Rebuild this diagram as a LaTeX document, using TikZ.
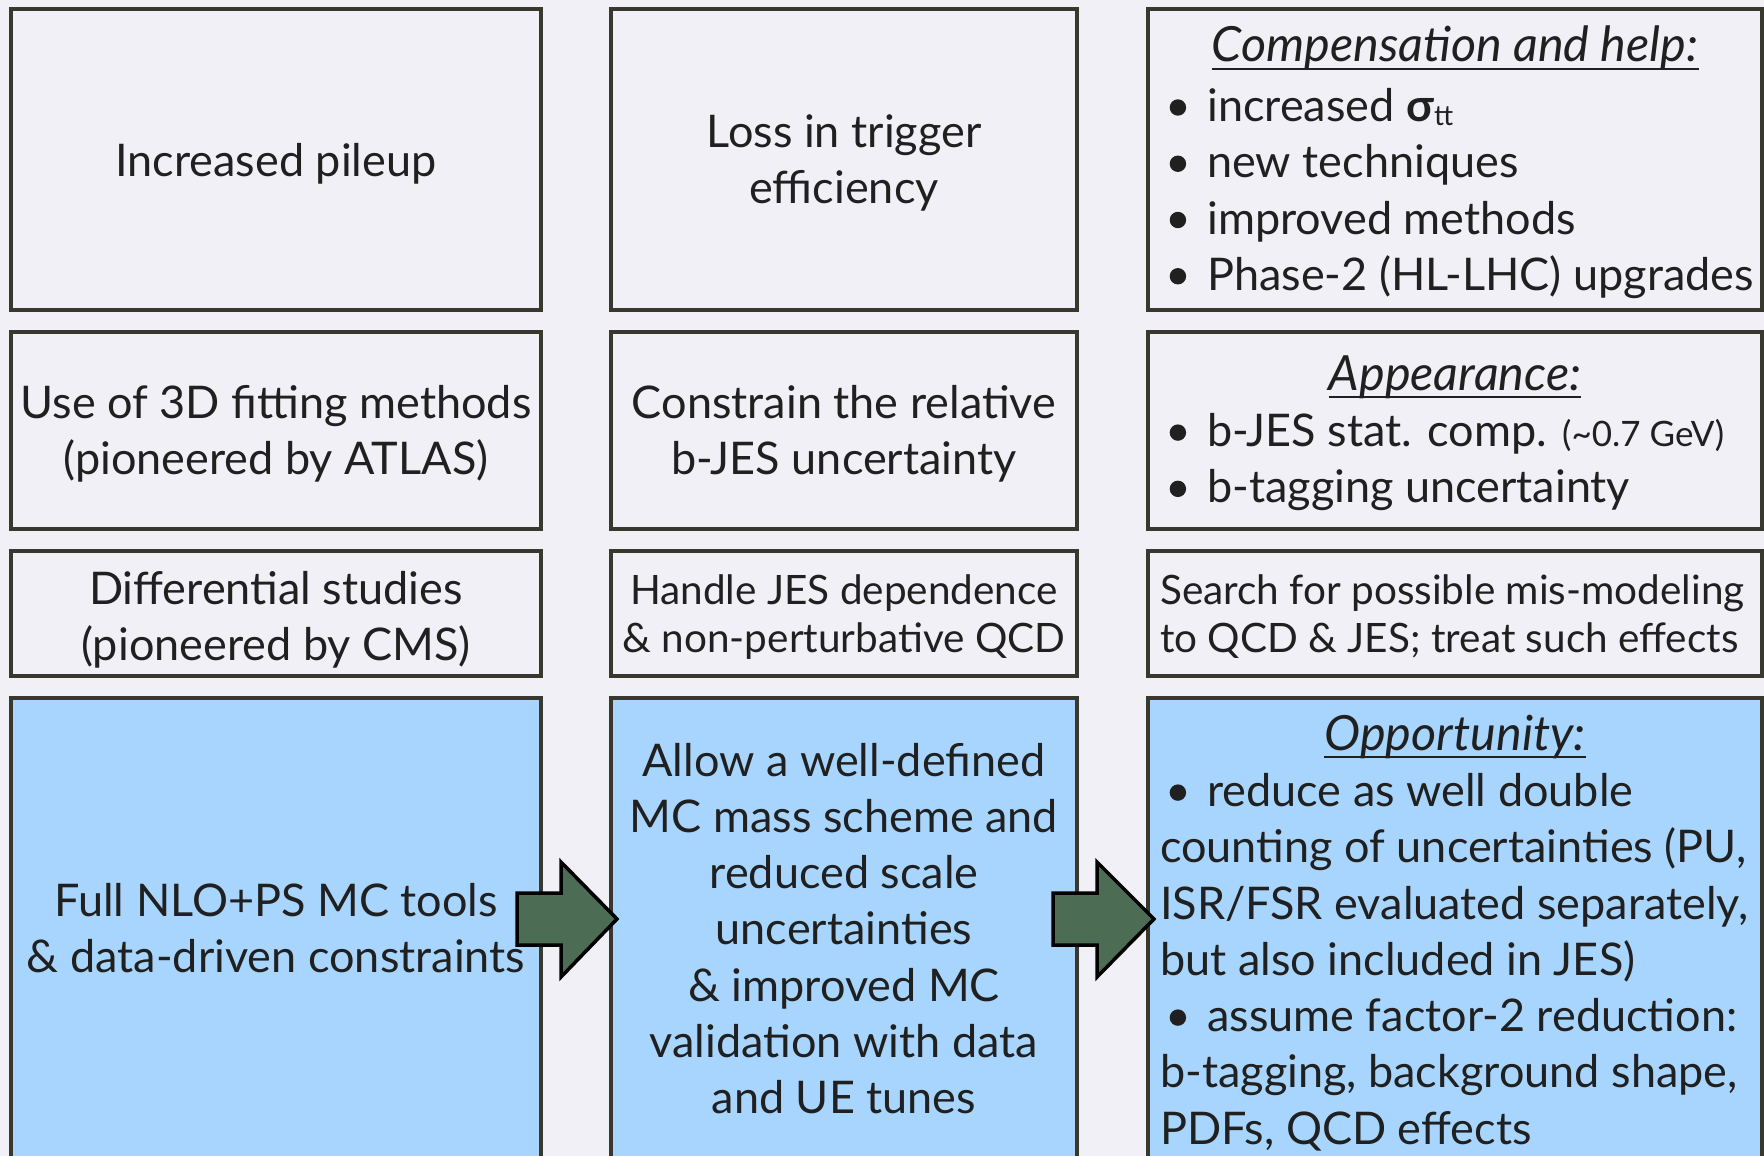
\documentclass[tikz,border=0pt]{standalone}
\usepackage{fontspec}
\setmainfont{Lato}
\usetikzlibrary{calc}
\definecolor{bgc}{RGB}{241,240,246}
\definecolor{bluec}{RGB}{168,213,253}
\definecolor{edgec}{RGB}{56,56,46}
\definecolor{arrc}{RGB}{76,108,84}
\definecolor{txtc}{RGB}{32,32,32}
\newcommand{\blt}{\makebox[47pt][l]{\hspace*{9.5pt}\tikz[baseline=-14pt]\fill[txtc] (0,0) circle (8.2pt);}}
\newcommand{\tsub}[1]{\raisebox{-4pt}{\fontsize{28}{28}\selectfont #1}}
\begin{document}
\begin{tikzpicture}[x=1pt,y=-1pt,
  box/.style={draw=edgec, line width=3.2pt, fill=bgc, inner sep=0pt, outer sep=0pt, anchor=north west},
  bluebox/.style={box, fill=bluec},
  big/.style={font=\fontsize{45}{56.25}\selectfont, text=txtc, inner sep=0pt, align=center, anchor=base},
  mid/.style={font=\fontsize{40.5}{48.4}\selectfont, text=txtc, inner sep=0pt, align=center, anchor=base},
  leftblk/.style={align=left, anchor=base west},
  hdr/.style={big, font=\fontsize{48.5}{56.25}\selectfont\itshape},
  uline/.style={draw=txtc, line width=2.2pt},
  bigarr/.style={draw=black, line width=3.5pt, fill=arrc, line join=miter}]
\useasboundingbox (0,0) rectangle (1764,1156);
\fill[bgc] (0,0) rectangle (1764,1156);
% boxes
\node[box, minimum width=530, minimum height=301] (b11) at (11,9) {};
\node[box, minimum width=466, minimum height=301] (b12) at (611,9) {};
\node[box, minimum width=614, minimum height=301] (b13) at (1148,9) {};
\node[box, minimum width=530, minimum height=197] (b21) at (11,332) {};
\node[box, minimum width=466, minimum height=197] (b22) at (611,332) {};
\node[box, minimum width=614, minimum height=197] (b23) at (1148,332) {};
\node[box, minimum width=530, minimum height=125] (b31) at (11,551) {};
\node[box, minimum width=466, minimum height=125] (b32) at (611,551) {};
\node[box, minimum width=614, minimum height=125] (b33) at (1148,551) {};
\node[bluebox, minimum width=530, minimum height=520] (b41) at (11,698) {};
\node[bluebox, minimum width=466, minimum height=520] (b42) at (611,698) {};
\node[bluebox, minimum width=614, minimum height=520] (b43) at (1148,698) {};
% row 1 (multi-line nodes are placed by the baseline of their last line)
\node[big] (t11) at (276,176.6) {Increased pileup};
\node[big] (t12) at (844,203.25) {Loss in trigger\\efficiency};
\node[hdr] (h13) at (1455,62) {Compensation and help:};
\node[big, leftblk] (t13) at (1160,290.25) {\blt increased \textbf{σ}\tsub{tt}\\\blt new techniques\\\blt improved methods\\\blt Phase-2 (HL-LHC) upgrades};
% row 2
\node[big] (t21) at (276,474.75) {Use of 3D fitting methods\\(pioneered by ATLAS)};
\node[big] (t22) at (844,474.75) {Constrain the relative\\b-JES uncertainty};
\node[hdr] (h23) at (1455,390) {Appearance:};
\node[big, leftblk] (t23) at (1160,502.85) {\blt b-JES stat. comp. {\fontsize{35}{35}\selectfont (\textasciitilde0.7 GeV)}\\\blt b-tagging uncertainty};
% row 3
\node[big] (t31) at (276,660.25) {Differential studies\\(pioneered by CMS)};
\node[mid] (t32) at (844,652.4) {Handle JES dependence\\\& non-perturbative QCD};
\node[mid, leftblk] (t33) at (1160,652.4) {Search for possible mis-modeling\\to QCD \& JES; treat such effects};
% row 4
\node[big] (t41) at (276,972.25) {Full NLO+PS MC tools\\\& data-driven constraints};
\node[big] (t42) at (844,1113.5) {Allow a well-defined\\MC mass scheme and\\reduced scale\\uncertainties\\\& improved MC\\validation with data\\and UE tunes};
\node[hdr] (h43) at (1455,750) {Opportunity:};
\node[big, leftblk] (t43) at (1160,1144.1) {\blt reduce as well double\\counting of uncertainties (PU,\\ISR/FSR evaluated separately,\\but also included in JES)\\\blt assume factor-2 reduction:\\b-tagging, background shape,\\PDFs, QCD effects};
% underlines
\foreach \h in {h13,h23,h43}
  \draw[uline] ([yshift=-7pt]\h.base west) -- ([yshift=-7pt]\h.base east);
% block arrows
\coordinate (a1) at (617,919);
\coordinate (a2) at (1154,919);
\draw[bigarr, shift={(a1)}] (-100,-26) -- (-56,-26) -- (-56,-57) -- (0,0) -- (-56,58) -- (-56,26) -- (-100,26) -- cycle;
\draw[bigarr, shift={(a2)}] (-101,-26) -- (-57,-26) -- (-57,-57) -- (0,0) -- (-57,58) -- (-57,26) -- (-101,26) -- cycle;
\end{tikzpicture}
\end{document}
